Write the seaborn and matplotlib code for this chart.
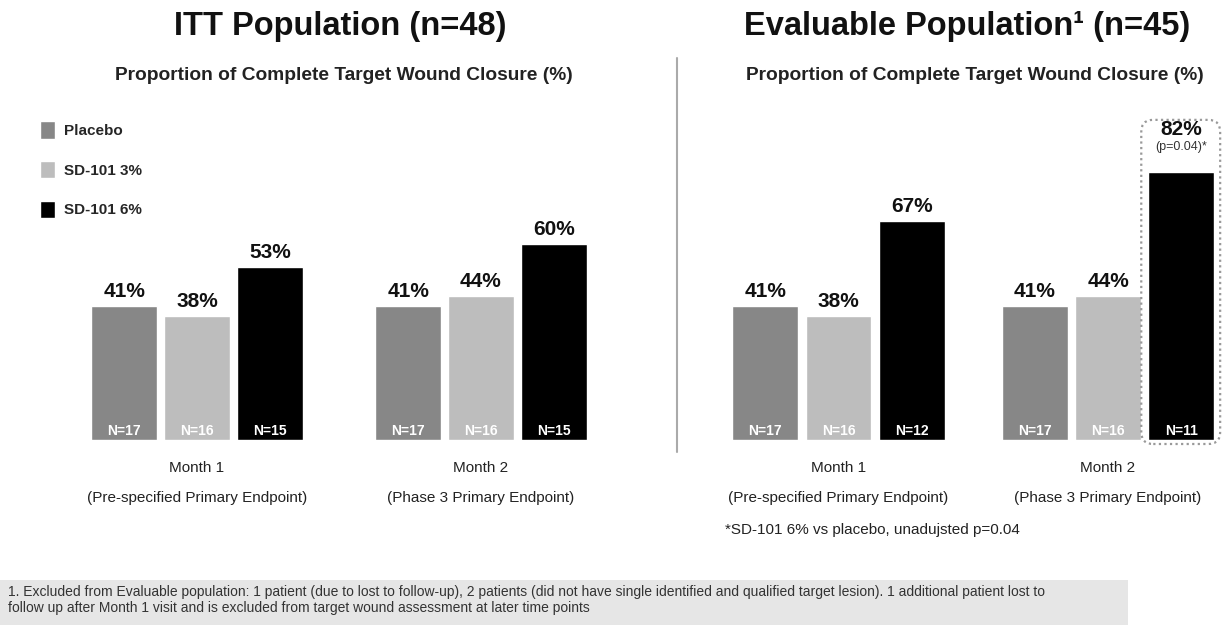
import matplotlib
matplotlib.use("Agg")
import matplotlib.pyplot as plt
import seaborn as sns
import pandas as pd
from matplotlib.patches import FancyBboxPatch, Rectangle

groups = ["Placebo", "SD-101 3%", "SD-101 6%"]
months = ["Month 1\n(Pre-specified Primary Endpoint)", "Month 2\n(Phase 3 Primary Endpoint)"]
colors = ["#878787", "#bdbdbd", "#000000"]

itt_values = [[41, 38, 53], [41, 44, 60]]
itt_n = [[17, 16, 15], [17, 16, 15]]
eval_values = [[41, 38, 67], [41, 44, 82]]
eval_n = [[17, 16, 12], [17, 16, 11]]

W, H = 1225, 630


def make_df(values, ns):
    rows = []
    for mi, m in enumerate(months):
        for gi, g in enumerate(groups):
            rows.append({"month": m, "group": g, "value": values[mi][gi], "n": ns[mi][gi]})
    return pd.DataFrame(rows)


sns.set_theme(style="white")
plt.rcParams["font.family"] = ["Liberation Sans", "DejaVu Sans"]

fig = plt.figure(figsize=(W / 100, H / 100), dpi=100)

# axes in pixel units: left, right, centre of group 0, group spacing
panels = [
    (30, 650, 197, 284, 0.77, itt_values, itt_n),
    (690, 1225, 838.5, 269.5, 0.815, eval_values, eval_n),
]
axes = []
for x0, x1, c0, step, width, values, ns in panels:
    ax = fig.add_axes([x0 / W, (H - 440) / H, (x1 - x0) / W, 340 / H])
    df = make_df(values, ns)
    sns.barplot(data=df, x="month", y="value", hue="group", hue_order=groups,
                palette=colors, width=width, gap=0.1, saturation=1, ax=ax,
                legend=(x0 == 30))
    ax.set_xlim(-(c0 - x0) / step, (x1 - c0) / step)
    ax.set_ylim(0, 340 / 3.27)
    ax.set_xlabel("")
    ax.set_ylabel("")
    ax.set_yticks([])
    sns.despine(ax=ax, left=True, bottom=True)
    ax.tick_params(axis="x", length=0, pad=15, labelsize=11, labelcolor="#222222")
    for lbl in ax.get_xticklabels():
        lbl.set_linespacing(2.5)

    for gi, cont in enumerate(ax.containers):
        for mi, bar in enumerate(cont):
            xc = bar.get_x() + bar.get_width() / 2
            h = bar.get_height()
            ax.text(xc, 2.7, f"N={ns[mi][gi]}", ha="center", va="center",
                    color="white", fontsize=10, fontweight="bold")
            if h == 82:
                ax.annotate(f"{values[mi][gi]}%", (xc, h), xytext=(0, 26.5),
                            textcoords="offset points", ha="center", va="baseline",
                            fontsize=15, fontweight="bold", color="#111111")
                ax.annotate("(p=0.04)*", (xc, h), xytext=(0, 16),
                            textcoords="offset points", ha="center", va="baseline",
                            fontsize=9, color="#333333")
            else:
                ax.annotate(f"{values[mi][gi]}%", (xc, h), xytext=(0, 6.5),
                            textcoords="offset points", ha="center", va="baseline",
                            fontsize=15, fontweight="bold", color="#111111")
    axes.append(ax)

ax_l, ax_r = axes

sns.move_legend(ax_l, "upper left", bbox_to_anchor=(40 / W, 1 - 121 / H),
                bbox_transform=fig.transFigure, frameon=False, title=None,
                handlelength=1.0, handleheight=1.4, labelspacing=1.45,
                handletextpad=0.6, borderpad=0, borderaxespad=0,
                prop={"weight": "bold", "size": 11})

# titles
fig.text(340 / W, 1 - 27 / H, "ITT Population (n=48)", ha="center", va="center",
         fontsize=23.5, fontweight="bold", color="#111111")
fig.text(967 / W, 1 - 27 / H, "Evaluable Population\u00b9 (n=45)", ha="center", va="center",
         fontsize=23.5, fontweight="bold", color="#111111")
for cx in (344, 975):
    fig.text(cx / W, 1 - 76 / H, "Proportion of Complete Target Wound Closure (%)",
             ha="center", va="center", fontsize=13.8, fontweight="bold", color="#222222")

# divider between panels
fig.add_artist(plt.Line2D([677 / W, 677 / W], [1 - 58 / H, 1 - 452 / H],
                          transform=fig.transFigure, color="#aaaaaa", lw=1.5))

# dotted highlight around the 82% bar
bar = ax_r.containers[2][1]
(bx0, by0), (bx1, by1) = ax_r.transData.transform(
    [(bar.get_x(), 0), (bar.get_x() + bar.get_width(), bar.get_height())])
box = FancyBboxPatch((bx0 - 7, by0 - 4), (bx1 - bx0) + 13, (by1 - by0) + 56,
                     boxstyle="round,pad=0,rounding_size=12", transform=None,
                     fill=False, edgecolor="#999999", lw=1.6, linestyle=(0, (1, 1.5)))
fig.add_artist(box)

fig.text(725 / W, 1 - 530 / H, "*SD-101 6% vs placebo, unadujsted p=0.04",
         ha="left", va="center", fontsize=11, color="#222222")

# footnote box
fig.add_artist(Rectangle((0, 1 - 625 / H), 1128 / W, 45 / H, transform=fig.transFigure,
                         facecolor="#e6e6e6", edgecolor="none", zorder=0))
fig.text(8 / W, 1 - 592 / H,
         "1. Excluded from Evaluable population: 1 patient (due to lost to follow-up), 2 patients "
         "(did not have single identified and qualified target lesion). 1 additional patient lost to",
         ha="left", va="center", fontsize=10, color="#333333")
fig.text(8 / W, 1 - 608 / H,
         "follow up after Month 1 visit and is excluded from target wound assessment at later time points",
         ha="left", va="center", fontsize=10, color="#333333")

fig.savefig("out.png", dpi=100)
